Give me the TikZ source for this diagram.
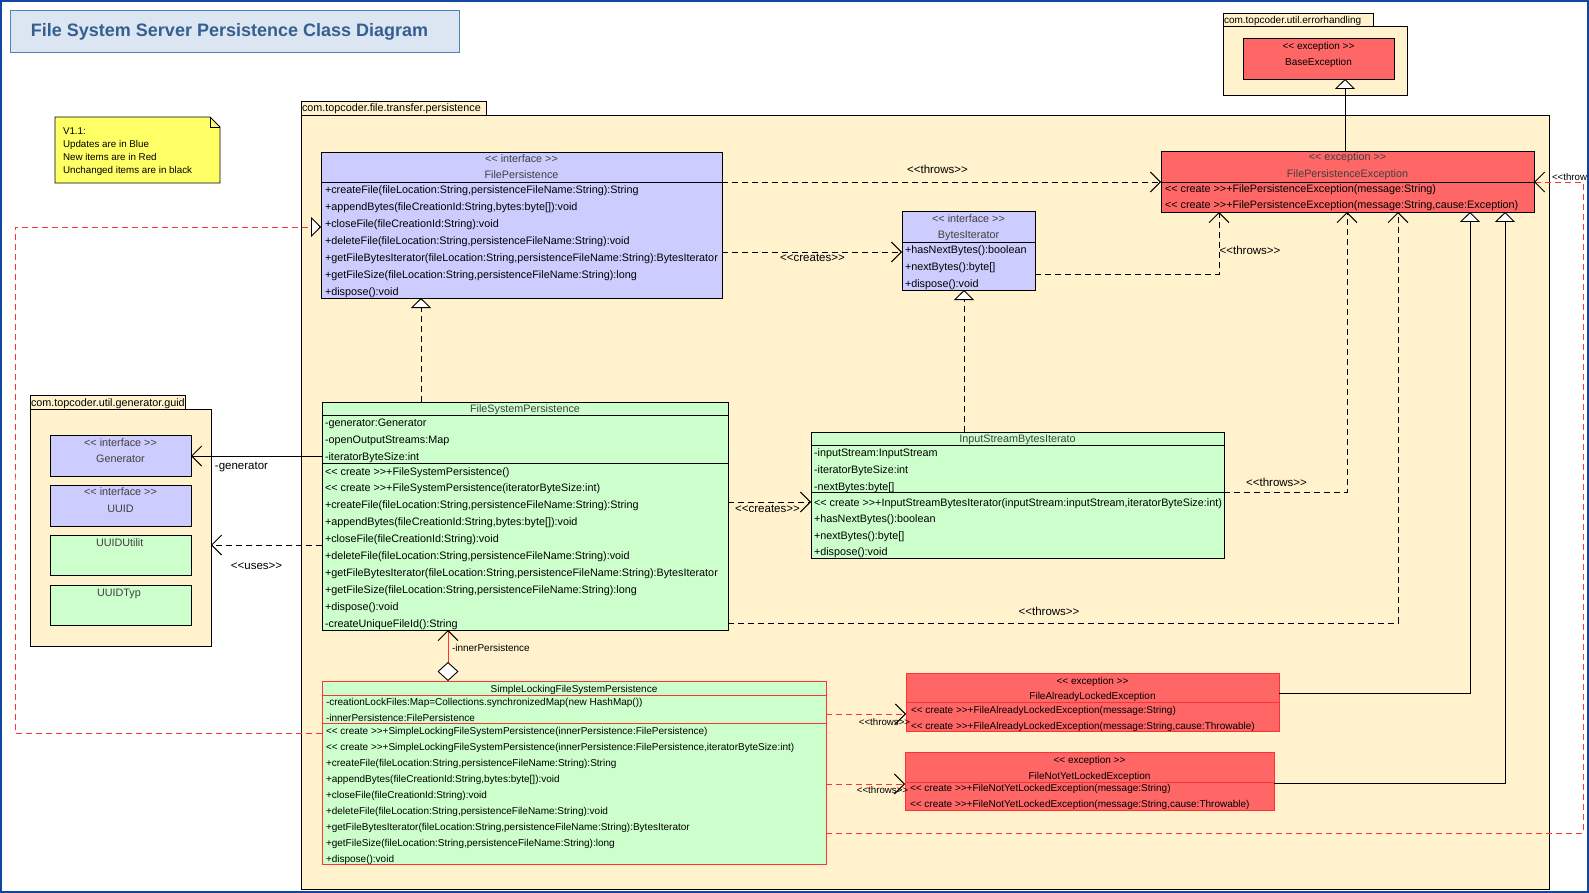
\documentclass[tikz,border=0pt]{standalone}
\usepackage{fontspec}
\newfontfamily\uf{Liberation Sans}
\usetikzlibrary{arrows.meta,fit}

\definecolor{pkgfill}{RGB}{255,242,204}
\definecolor{ifcfill}{RGB}{204,204,255}
\definecolor{clsfill}{RGB}{204,255,204}
\definecolor{excfill}{RGB}{255,102,102}
\definecolor{newline}{RGB}{255,51,51}
\definecolor{notefill}{RGB}{255,255,102}
\definecolor{titlefill}{RGB}{220,230,242}
\definecolor{titleline}{RGB}{79,129,189}
\definecolor{titletext}{RGB}{54,95,145}
\definecolor{framecol}{RGB}{16,70,160}
\definecolor{stereo}{RGB}{64,64,64}

\newcommand\fontA{\uf\fontsize{10.8}{13}\selectfont}
\newcommand\fontB{\uf\fontsize{10}{12}\selectfont}
\newcommand\fontL{\uf\fontsize{11.5}{13}\selectfont}
\newcommand\fontS{\uf\fontsize{9.7}{11}\selectfont}

% one text line per node, stacked at a fixed pitch
\newcommand\rows[6][]{%
  \foreach \t [count=\i] in {#6}{%
    \node[txt,#1] (#2\i) at (#3,{#4+#5*(\i-1)}) {\t};}}

\tikzset{
  box/.style={draw, inner sep=0pt, outer sep=0pt},
  txt/.style={anchor=base west, inner sep=0pt, outer sep=0pt, font=\fontA},
  ctr/.style={anchor=base, inner sep=0pt, outer sep=0pt, font=\fontA},
  lbl/.style={inner sep=0pt, outer sep=0pt, font=\fontL},
  dep/.style={dash pattern=on 6pt off 4pt, -{Straight Barb[length=10pt,width=20pt]}},
  assoc/.style={-{Straight Barb[length=10pt,width=20pt]}},
  real/.style={dash pattern=on 6pt off 4pt, -{Triangle[length=10pt,width=20pt,fill=white]}},
  gen/.style={-{Triangle[length=10pt,width=20pt,fill=white]}},
  redthrow/.style={newline, dash pattern=on 6pt off 4pt, -{Straight Barb[length=10pt,width=20pt,color=black]}},
  redreal/.style={newline, dash pattern=on 6pt off 4pt, -{Triangle[length=10pt,width=20pt,color=black,fill=white]}},
  agg/.style={newline, {Diamond[length=19pt,width=21pt,color=black,fill=white]}-{Straight Barb[length=10pt,width=20pt,color=black]}},
}

\begin{document}
\begin{tikzpicture}[x=1pt,y=-1pt,line width=0.9pt]
\useasboundingbox (0,0) rectangle (1589,893);
\fill[white] (0,0) rectangle (1589,893);

% title
\node[box, draw=titleline, fill=titlefill, fit={(10,10)(459,52)}] (title) {};
\node[anchor=base west, inner sep=0pt, text=titletext, font=\uf\bfseries\fontsize{18}{20}\selectfont] (titletxt) at (30.5,36.7) {File System Server Persistence Class Diagram};

% version note
\draw[fill=notefill] (55,117) -- (210,117) -- (220,127) -- (220,183) -- (55,183) -- cycle;
\draw (210,117) -- (210,127) -- (220,127);
\rows[font=\uf\fontsize{9.8}{11}\selectfont]{note}{63}{135}{13}{{V1.1:},{Updates are in Blue},{New items are in Red},{Unchanged items are in black}}

% packages
\node[box, fill=pkgfill, fit={(301,115)(1549,889)}] (pkgmain) {};
\node[box, fill=pkgfill, fit={(301,101)(486,115)}] (pkgmaintab) {};
\node[txt] (pkgmainname) at (302,111.7) {com.topcoder.file.transfer.persistence};

\node[box, fill=pkgfill, fit={(1223,26)(1407,95)}] (pkgerr) {};
\node[box, fill=pkgfill, fit={(1223,13)(1373,26)}] (pkgerrtab) {};
\node[txt, font=\fontB] (pkgerrname) at (1224,24) {com.topcoder.util.errorhandling};

\node[box, fill=pkgfill, fit={(30,409)(211,646)}] (pkgguid) {};
\node[box, fill=pkgfill, fit={(30,395)(185,409)}] (pkgguidtab) {};
\begin{scope}
\clip (pkgguidtab.north west) rectangle ([xshift=-1pt]pkgguidtab.south east);
\node[txt] (pkgguidname) at (31,406.4) {com.topcoder.util.generator.guid};
\end{scope}

% BaseException
\node[box, fill=excfill, fit={(1243,38)(1394,79)}] (be) {};
\node[ctr, font=\fontB] (best) at (be.north |- 0,49.4) {<< exception >>};
\node[ctr, font=\fontB] (bename) at (be.north |- 0,65.4) {BaseException};

% FilePersistenceException
\node[box, fill=excfill, fit={(1161,151)(1534,212)}] (fpe) {};
\draw (fpe.west |- 0,182) -- (fpe.east |- 0,182);
\node[ctr, text=stereo] (fpest) at (fpe.north |- 0,160.7) {<< exception >>};
\node[ctr, text=stereo] (fpename) at (fpe.north |- 0,178) {FilePersistenceException};
\rows{fpem}{1165}{192.3}{16.7}{{<< create >>+FilePersistenceException(message:String)},{<< create >>+FilePersistenceException(message:String,cause:Exception)}}

% FilePersistence
\node[box, fill=ifcfill, fit={(321,152)(722,298)}] (fp) {};
\draw (fp.west |- 0,182) -- (fp.east |- 0,182);
\node[ctr, text=stereo] (fpst) at (fp.north |- 0,162.3) {<< interface >>};
\node[ctr, text=stereo] (fpname) at (fp.north |- 0,179) {FilePersistence};
\begin{scope}
\clip (fp.north west) rectangle ([xshift=-1.2pt]fp.south east);
\rows{fpm}{325}{193.3}{17}{{+createFile(fileLocation:String,persistenceFileName:String):String},{+appendBytes(fileCreationId:String,bytes:byte[]):void},{+closeFile(fileCreationId:String):void},{+deleteFile(fileLocation:String,persistenceFileName:String):void},{+getFileBytesIterator(fileLocation:String,persistenceFileName:String):BytesIterator},{+getFileSize(fileLocation:String,persistenceFileName:String):long},{+dispose():void}}
\end{scope}

% BytesIterator
\node[box, fill=ifcfill, fit={(902,211)(1035,290)}] (bi) {};
\draw (bi.west |- 0,242) -- (bi.east |- 0,242);
\node[ctr, text=stereo] (bist) at (bi.north |- 0,222.3) {<< interface >>};
\node[ctr, text=stereo] (biname) at (bi.north |- 0,239) {BytesIterator};
\rows{bim}{905}{253.3}{17}{{+hasNextBytes():boolean},{+nextBytes():byte[]},{+dispose():void}}

% FileSystemPersistence
\node[box, fill=clsfill, fit={(322,402)(728,630)}] (fsp) {};
\draw (fsp.west |- 0,415) -- (fsp.east |- 0,415);
\draw (fsp.west |- 0,463) -- (fsp.east |- 0,463);
\node[ctr, text=stereo] (fspname) at (fsp.north |- 0,412.3) {FileSystemPersistence};
\rows{fspa}{325}{426.3}{17}{{-generator:Generator},{-openOutputStreams:Map},{-iteratorByteSize:int}}
\rows{fspm}{325}{475}{16.9}{{<< create >>+FileSystemPersistence()},{<< create >>+FileSystemPersistence(iteratorByteSize:int)},{+createFile(fileLocation:String,persistenceFileName:String):String},{+appendBytes(fileCreationId:String,bytes:byte[]):void},{+closeFile(fileCreationId:String):void},{+deleteFile(fileLocation:String,persistenceFileName:String):void},{+getFileBytesIterator(fileLocation:String,persistenceFileName:String):BytesIterator},{+getFileSize(fileLocation:String,persistenceFileName:String):long},{+dispose():void},{-createUniqueFileId():String}}

% InputStreamBytesIterator
\node[box, fill=clsfill, fit={(811,432)(1224,558)}] (isbi) {};
\draw (isbi.west |- 0,445) -- (isbi.east |- 0,445);
\draw (isbi.west |- 0,492) -- (isbi.east |- 0,492);
\node[ctr, text=stereo] (isbiname) at (isbi.north |- 0,442.3) {InputStreamBytesIterato};
\rows{isbia}{814}{456.3}{16.9}{{-inputStream:InputStream},{-iteratorByteSize:int},{-nextBytes:byte[]}}
\begin{scope}
\clip (isbi.north west) rectangle ([xshift=-2pt]isbi.south east);
\rows{isbim}{814}{506}{16.6}{{<< create >>+InputStreamBytesIterator(inputStream:inputStream,iteratorByteSize:int)},{+hasNextBytes():boolean},{+nextBytes():byte[]},{+dispose():void}}
\end{scope}

% SimpleLockingFileSystemPersistence
\node[box, draw=newline, fill=clsfill, fit={(322,681)(826,864)}] (slfsp) {};
\draw[newline] (slfsp.west |- 0,695) -- (slfsp.east |- 0,695);
\draw[newline] (slfsp.west |- 0,723) -- (slfsp.east |- 0,723);
\node[ctr, font=\fontB] (slfspname) at (slfsp.north |- 0,692) {SimpleLockingFileSystemPersistence};
\rows[font=\fontB]{slfspa}{326}{705.4}{16}{{-creationLockFiles:Map=Collections.synchronizedMap(new HashMap())},{-innerPersistence:FilePersistence}}
\rows[font=\fontB]{slfspm}{326}{734.4}{16}{{<< create >>+SimpleLockingFileSystemPersistence(innerPersistence:FilePersistence)},{<< create >>+SimpleLockingFileSystemPersistence(innerPersistence:FilePersistence,iteratorByteSize:int)},{+createFile(fileLocation:String,persistenceFileName:String):String},{+appendBytes(fileCreationId:String,bytes:byte[]):void},{+closeFile(fileCreationId:String):void},{+deleteFile(fileLocation:String,persistenceFileName:String):void},{+getFileBytesIterator(fileLocation:String,persistenceFileName:String):BytesIterator},{+getFileSize(fileLocation:String,persistenceFileName:String):long},{+dispose():void}}

% FileAlreadyLockedException
\node[box, draw=newline, fill=excfill, fit={(906,673)(1279,731)}] (fale) {};
\draw[newline] (fale.west |- 0,702) -- (fale.east |- 0,702);
\node[ctr, font=\fontB] (falest) at (fale.north |- 0,684.4) {<< exception >>};
\node[ctr, font=\fontB] (falename) at (fale.north |- 0,699.7) {FileAlreadyLockedException};
\rows[font=\fontB]{falem}{911}{713.5}{16}{{<< create >>+FileAlreadyLockedException(message:String)},{<< create >>+FileAlreadyLockedException(message:String,cause:Throwable)}}

% FileNotYetLockedException
\node[box, draw=newline, fill=excfill, fit={(905,752)(1274,810)}] (fnyle) {};
\draw[newline] (fnyle.west |- 0,782) -- (fnyle.east |- 0,782);
\node[ctr, font=\fontB] (fnylest) at (fnyle.north |- 0,763.5) {<< exception >>};
\node[ctr, font=\fontB] (fnylename) at (fnyle.north |- 0,779.2) {FileNotYetLockedException};
\rows[font=\fontB]{fnylem}{910}{791.8}{16}{{<< create >>+FileNotYetLockedException(message:String)},{<< create >>+FileNotYetLockedException(message:String,cause:Throwable)}}

% guid package contents
\node[box, fill=ifcfill, fit={(50,435)(191,476)}] (gen) {};
\node[ctr, text=stereo] (genst) at (gen.north |- 0,446) {<< interface >>};
\node[ctr, text=stereo] (genname) at (gen.north |- 0,462.7) {Generator};
\node[box, fill=ifcfill, fit={(50,485)(191,526)}] (uuid) {};
\node[ctr, text=stereo] (uuidst) at (uuid.north |- 0,495.7) {<< interface >>};
\node[ctr, text=stereo] (uuidname) at (uuid.north |- 0,512.7) {UUID};
\node[box, fill=clsfill, fit={(50,535)(191,575)}] (uuidu) {};
\node[txt, text=stereo] (uuiduname) at (96,546) {UUIDUtilit};
\node[box, fill=clsfill, fit={(50,585)(191,625)}] (uuidt) {};
\node[txt, text=stereo] (uuidtname) at (97,596) {UUIDTyp};

% connectors
\coordinate (lbend) at (15,480);
\coordinate (rbend) at (1583,500);
\draw[dep] (fp.east |- 0,182) -- (fpe.west |- 0,182);
\draw[dep] (fp.east |- 0,252) -- (bi.west |- 0,252);
\draw[dep] (bi.east |- 0,274) -| (fpe.south -| 1219,0);
\draw[real] (isbi.north -| 964,0) -- (bi.south -| 964,0);
\draw[real] (fsp.north -| 421,0) -- (fp.south -| 421,0);
\draw[assoc] (fsp.west |- 0,456) -- (gen.east |- 0,456);
\draw[dep] (fsp.west |- 0,545) -- (pkgguid.east |- 0,545);
\draw[dep] (fsp.east |- 0,502) -- (isbi.west |- 0,502);
\draw[dep] (isbi.east |- 0,492) -| (fpe.south -| 1347,0);
\draw[dep] (fsp.east |- 0,623) -| (fpe.south -| 1398,0);
\draw[gen] (fpe.north -| 1345,0) -- (be.south -| 1345,0);
\draw[gen] (fale.east |- 0,693) -| (fpe.south -| 1470,0);
\draw[gen] (fnyle.east |- 0,783) -| (fpe.south -| 1505,0);
\draw[agg] (slfsp.north -| 448,0) -- (fsp.south -| 448,0);
\draw[redreal] (slfsp.west |- 0,733) -| (lbend) |- (fp.west |- 0,227);
\draw[redthrow] (slfsp.east |- 0,714) -- (fale.west |- 0,714);
\draw[redthrow] (slfsp.east |- 0,784) -- (fnyle.west |- 0,784);
\draw[redthrow] (slfsp.east |- 0,833) -| (rbend) |- (fpe.east |- 0,182);

% connector labels
\node[lbl] (l1) at (937.5,169.3) {<<throws>>};
\node[lbl] (l2) at (812.5,258.3) {<<creates>>};
\node[lbl] (l3) at (1250,250) {<<throws>>};
\node[lbl] (l4) at (1276.5,482.7) {<<throws>>};
\node[lbl] (l5) at (1049,611) {<<throws>>};
\node[lbl] (l6) at (767.5,509.3) {<<creates>>};
\node[lbl] (l7) at (241.5,466.7) {-generator};
\node[lbl] (l8) at (256.5,565.7) {<<uses>>};
\node[lbl, font=\fontB, anchor=west] (l9) at (452,647.7) {-innerPersistence};
\node[lbl, font=\fontS] (l10) at (884.5,722) {<<throws>>};
\node[lbl, font=\fontS] (l11) at (882.5,790) {<<throws>>};
\node[lbl, font=\fontS, anchor=west] (l12) at (1552,177) {<<throws>>};

% outer frame
\draw[framecol, line width=2pt] (1,1) rectangle (1588,892);
\end{tikzpicture}
\end{document}
